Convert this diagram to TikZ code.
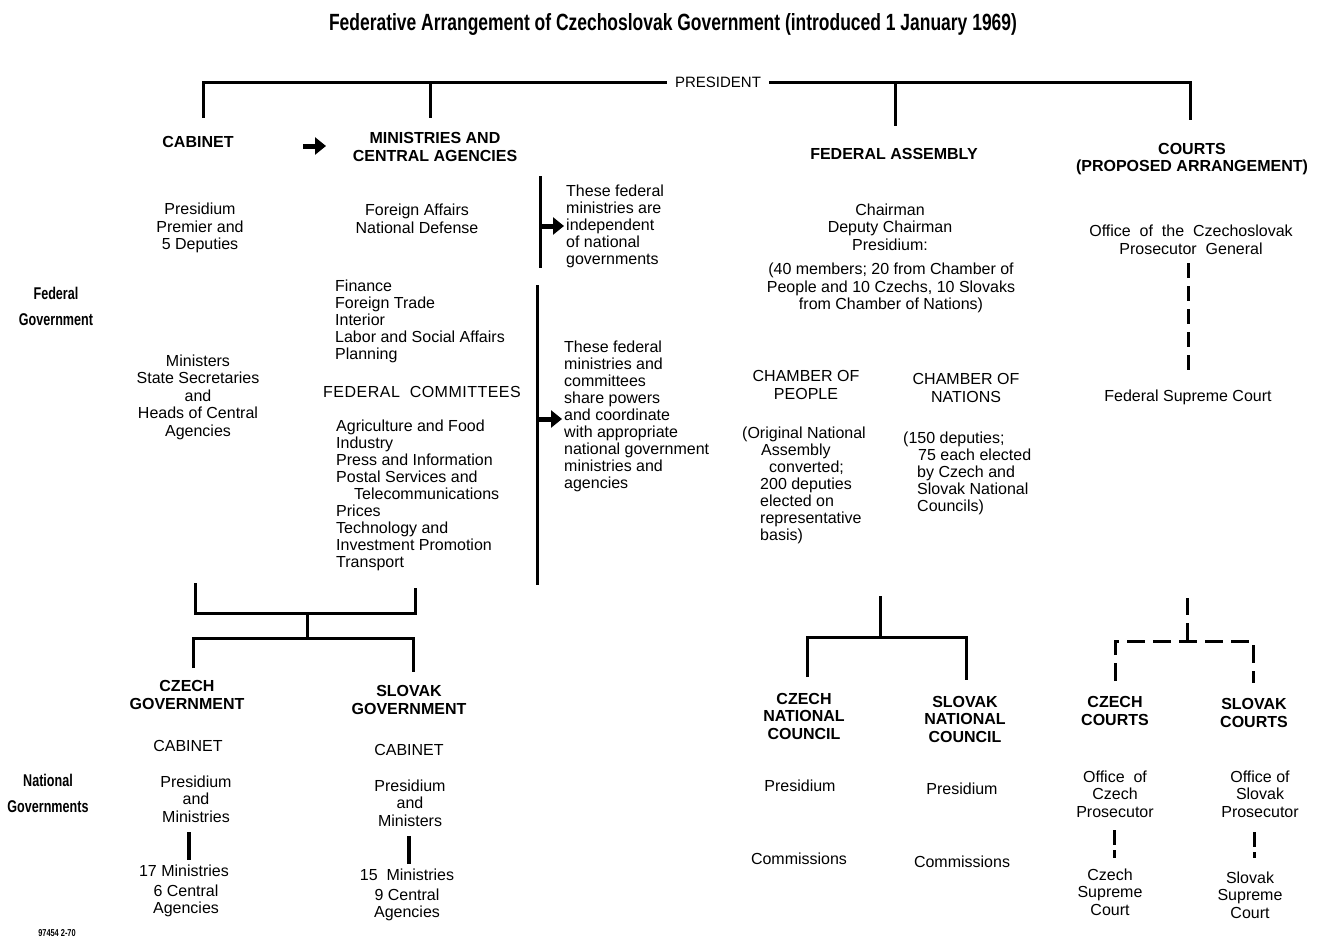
\documentclass[tikz,border=0pt]{standalone}
\usepackage{fontspec}
\setmainfont{Liberation Sans}
\newfontfamily\condfont[FakeStretch=0.74]{Liberation Sans}
\usetikzlibrary{arrows.meta}
\tikzset{
  txt/.style={font=\fontsize{16}{17.5}\selectfont, align=center, inner sep=0pt},
  txtl/.style={font=\fontsize{16}{17}\selectfont, align=left, inner sep=0pt, anchor=west},
  hdr/.style={font=\fontsize{16}{17.5}\selectfont\bfseries, align=center, inner sep=0pt},
  side/.style={font=\condfont\fontsize{17}{26}\selectfont\bfseries, align=center, inner sep=0pt},
  link/.style={line width=3pt},
  dlink/.style={line width=3pt, dash pattern=on 15pt off 8pt},
  bigarrow/.style={line width=5pt, -{Triangle[length=11pt,width=17pt]}},
}
\begin{document}
\begin{tikzpicture}[x=1pt,y=-1pt]
\useasboundingbox[fill=white] (0,0) rectangle (1323,940);

% title
\node[inner sep=0pt, anchor=base] (title) at (673,30)
  {\resizebox{688pt}{17pt}{\condfont\bfseries\fontsize{20}{22}\selectfont Federative Arrangement of Czechoslovak Government (introduced 1 January 1969)}};

% side labels
\node[side] (fedgov) at (56,306) {Federal\\Government};
\node[side] (natgov) at (48,793) {National\\Governments};
\node[inner sep=0pt, font=\condfont\bfseries\fontsize{10}{11}\selectfont] (code) at (57,933) {97454 2-70};

% president
\node[txt, inner xsep=8pt, font=\fontsize{15}{17}\selectfont] (pres) at (718,82) {PRESIDENT};

% federal headings
\node[hdr] (cab) at (198,142) {CABINET};
\node[hdr] (min) at (435,147) {MINISTRIES AND\\CENTRAL AGENCIES};
\node[hdr] (fa) at (894,154) {FEDERAL ASSEMBLY};
\node[hdr] (courts) at (1192,159) {COURTS\\(PROPOSED ARRANGEMENT)};

% cabinet column
\node[txt] (presid1) at (200,228) {Presidium\\Premier and\\5 Deputies};
\node[txt] (ministers) at (198,397) {Ministers\\State Secretaries\\and\\Heads of Central\\Agencies};

% ministries column
\node[txt] (fad) at (417,219) {Foreign Affairs\\National Defense};
\node[txtl] (finance) at (335,321) {Finance\\Foreign Trade\\Interior\\Labor and Social Affairs\\Planning};
\node[txt, font=\fontsize{16}{17}\selectfont] (fedcom) at (422,392) {\addfontfeature{LetterSpace=3}FEDERAL\ \ COMMITTEES};
\node[txtl] (agri) at (336,495) {Agriculture and Food\\Industry\\Press and Information\\Postal Services and\\\hspace*{18pt}Telecommunications\\Prices\\Technology and\\Investment Promotion\\Transport};

% notes
\node[txtl] (indep) at (566,226) {These federal\\ministries are\\independent\\of national\\governments};
\node[txtl] (share) at (564,416) {These federal\\ministries and\\committees\\share powers\\and coordinate\\with appropriate\\national government\\ministries and\\agencies};

% federal assembly
\node[txt] (chair) at (890,227) {Chairman\\Deputy Chairman\\Presidium:};
\node[txt] (forty) at (891,288) {(40 members; 20 from Chamber of\\People and 10 Czechs, 10 Slovaks\\from Chamber of Nations)};
\node[txt] (chp) at (806,385) {CHAMBER OF\\PEOPLE};
\node[txt] (chn) at (966,388) {CHAMBER OF\\NATIONS};
\node[txtl] (orig) at (742,485) {(Original National\\\hspace*{19pt}Assembly\\\hspace*{27pt}converted;\\\hspace*{18pt}200 deputies\\\hspace*{18pt}elected on\\\hspace*{18pt}representative\\\hspace*{18pt}basis)};
\node[txtl] (n150) at (903,473) {(150 deputies;\\\hspace*{15pt}75 each elected\\\hspace*{14pt}by Czech and\\\hspace*{14pt}Slovak National\\\hspace*{14pt}Councils)};

% courts
\node[txt] (office) at (1191,240) {Office\ \ of\ \ the\ \ Czechoslovak\\Prosecutor\ \ General};
\node[txt] (fsc) at (1188,397) {Federal Supreme Court};

% national governments
\node[hdr] (czg) at (187,695) {CZECH\\GOVERNMENT};
\node[hdr] (slg) at (409,700) {SLOVAK\\GOVERNMENT};
\node[txt] (cab2) at (188,746) {CABINET};
\node[txt] (cab3) at (409,750) {CABINET};
\node[txt] (pm1) at (196,799) {Presidium\\and\\Ministries};
\node[txt] (pm2) at (410,803) {Presidium\\and\\Ministers};
\node[txt] (m17) at (184,871) {17 Ministries};
\node[txt] (ca6) at (186,901) {6 Central\\Agencies};
\node[txt] (m15) at (407,875) {15\ \ Ministries};
\node[txt] (ca9) at (407,905) {9 Central\\Agencies};

\node[hdr] (cnc) at (804,716) {CZECH\\NATIONAL\\COUNCIL};
\node[hdr] (snc) at (965,719) {SLOVAK\\NATIONAL\\COUNCIL};
\node[txt] (pr1) at (800,786) {Presidium};
\node[txt] (pr2) at (962,789) {Presidium};
\node[txt] (com1) at (799,859) {Commissions};
\node[txt] (com2) at (962,862) {Commissions};

\node[hdr] (czc) at (1115,711) {CZECH\\COURTS};
\node[hdr] (slc) at (1254,713) {SLOVAK\\COURTS};
\node[txt] (ocp) at (1115,794) {Office\ \ of\\Czech\\Prosecutor};
\node[txt] (osp) at (1260,794) {Office of\\Slovak\\Prosecutor};
\node[txt] (csc) at (1110,892) {Czech\\Supreme\\Court};
\node[txt] (ssc) at (1250,895) {Slovak\\Supreme\\Court};

% coordinates
\coordinate (cabtop) at (203,118);
\coordinate (mintop) at (430,118);
\coordinate (fatop) at (895,126);
\coordinate (crttop) at (1190,120);
\coordinate (a1s) at (303,146);
\coordinate (a1e) at (326,146);
\coordinate (b1t) at (540,176);
\coordinate (b1b) at (540,268);
\coordinate (b2t) at (537,285);
\coordinate (b2b) at (537,585);
\coordinate (fg1) at (195,583);
\coordinate (fg2) at (195,613);
\coordinate (fg3) at (415,613);
\coordinate (fg4) at (415,588);
\coordinate (fgm) at (307,613);
\coordinate (ngm) at (307,638);
\coordinate (ng1) at (193,668);
\coordinate (ng2) at (193,638);
\coordinate (ng3) at (413,638);
\coordinate (ng4) at (413,672);
\coordinate (fab) at (880,596);
\coordinate (fam) at (880,637);
\coordinate (nc1) at (807,677);
\coordinate (nc2) at (807,637);
\coordinate (nc3) at (966,637);
\coordinate (nc4) at (966,680);
\coordinate (ct1) at (1188,263);
\coordinate (ct2) at (1188,372);
\coordinate (cb) at (1187,598);
\coordinate (cm) at (1187,641);
\coordinate (cc1) at (1115,681);
\coordinate (cc2) at (1115,641);
\coordinate (cc3) at (1253,641);
\coordinate (cc4) at (1253,683);
\coordinate (g1t) at (189,832);
\coordinate (g1b) at (189,860);
\coordinate (g2t) at (409,836);
\coordinate (g2b) at (409,864);
\coordinate (k1t) at (1114,830);
\coordinate (k1b) at (1114,858);
\coordinate (k2t) at (1254,832);
\coordinate (k2b) at (1254,858);

% president connectors
\draw[link] (pres.west) -| (cabtop);
\draw[link] (pres.east) -| (crttop);
\draw[link] (mintop |- pres) -- (mintop);
\draw[link] (fatop |- pres) -- (fatop);

% arrows and bars
\draw[bigarrow] (a1s) -- (a1e);
\draw[link] (b1t) -- (b1b);
\draw[bigarrow] (b1t |- indep.west) -- ([xshift=-2pt]indep.west);
\draw[link] (b2t) -- (b2b);
\draw[bigarrow] ([yshift=-3pt]b2t |- share.west) -- ([xshift=-2pt,yshift=-3pt]share.west);

% federal to national governments
\draw[link] (fg1) -- (fg2) -- (fg3) -- (fg4);
\draw[link] (fgm) -- (ngm);
\draw[link] (ng1) -- (ng2) -- (ng3) -- (ng4);
\draw[line width=4pt] (g1t) -- (g1b);
\draw[line width=4pt] (g2t) -- (g2b);

% assembly to national councils
\draw[link] (fab) -- (fam);
\draw[link] (nc1) -- (nc2) -- (nc3) -- (nc4);

% courts
\draw[dlink] (ct1) -- (ct2);
\draw[dlink, dash pattern=on 17pt off 8pt] (cb) -- (cm);
\draw[dlink, dash pattern=on 18pt off 8pt] (cc1) -- (cc2) -- (cc3) -- (cc4);
\draw[dlink, dash pattern=on 15pt off 5pt] (k1t) -- (k1b);
\draw[dlink, dash pattern=on 15pt off 5pt] (k2t) -- (k2b);
\end{tikzpicture}
\end{document}
